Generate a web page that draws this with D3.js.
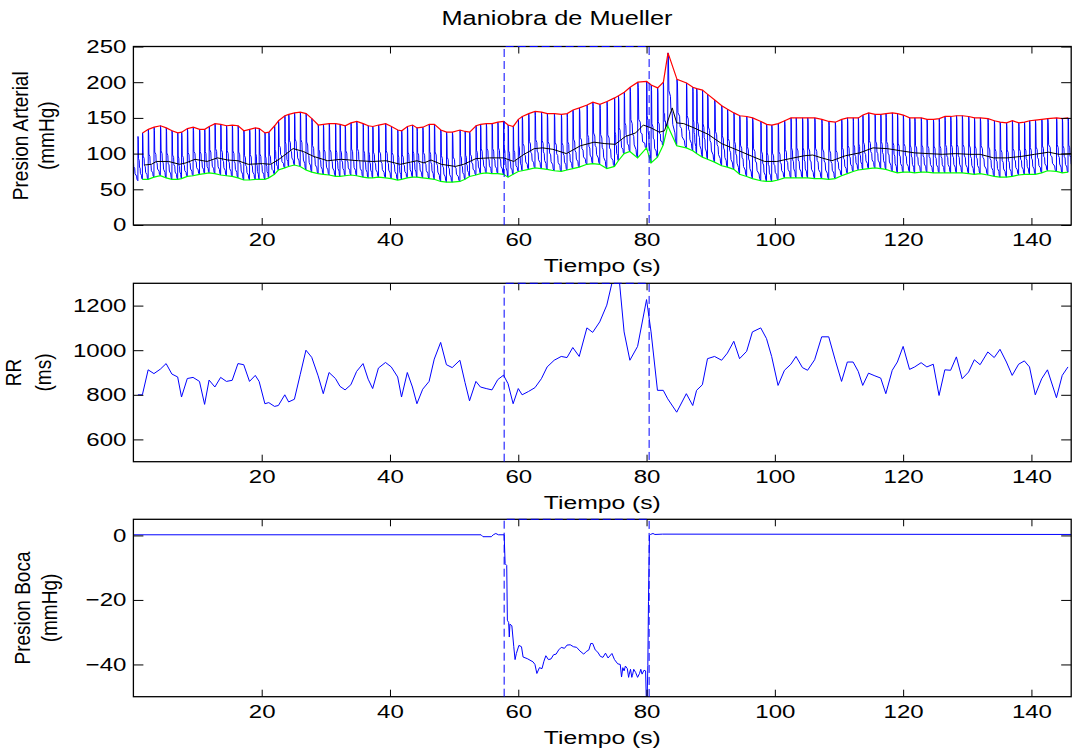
<!DOCTYPE html>
<html>
<head>
<meta charset="utf-8">
<script src="https://cdn.jsdelivr.net/npm/d3@7"></script>
<style>
body{margin:0;background:#fff;}
text{font-family:"Liberation Sans",Arial,sans-serif;fill:#000;}
</style>
</head>
<body>
<svg id="chart" width="1072" height="753"></svg>
<script>
// ---- data ----
var xTicks = [20, 40, 60, 80, 100, 120, 140];
var bpTicks = [0, 50, 100, 150, 200, 250];
var rrTicks = [600, 800, 1000, 1200];
var mouthTicks = [-40, -20, 0];
var maneuver = [57.8, 80.4];

// beat times (s) and RR (ms)
var rrTime = [0.7, 1.4, 2.3, 3.2, 4.2, 5.1, 6.0, 6.9, 7.5, 8.4, 9.3,
  10.3, 11.1, 11.8, 12.7, 13.6, 14.5, 15.4, 16.3, 17.2, 18.1,
  19.0, 19.6, 20.5, 21.1, 22.0, 22.6, 23.6, 24.2, 25.1, 26.0,
  26.9, 27.8, 28.8, 29.6, 30.5, 31.5, 32.2, 33.0, 33.9, 34.8,
  35.8, 36.6, 37.3, 38.2, 39.3, 40.2, 41.2, 41.8, 42.7, 43.5,
  44.2, 45.1, 46.1, 46.9, 47.9, 48.8, 49.7, 50.9, 51.7, 52.4,
  53.4, 54.1, 55.0, 55.9, 56.8, 57.7, 58.4, 59.2, 60.0, 60.6,
  61.6,
  62.6, 63.6, 64.5, 65.6, 66.7, 67.6, 68.5, 69.5, 70.7, 71.6,
  72.7, 73.8, 75.0, 75.6, 76.5, 77.4, 78.6, 80.0, 80.7, 81.7,
  82.6, 83.3, 84.7, 86.2, 87.2, 87.8, 88.7, 89.5, 90.6, 91.7,
  92.6, 93.6, 94.5, 95.6, 96.5, 97.8, 98.7, 99.5, 100.5, 101.5,
  102.5, 103.3, 104.3, 105.1, 106.2, 107.3, 108.4, 109.4, 110.4, 111.3,
  112.2, 113.0, 113.7, 114.6, 115.6, 116.5, 117.3, 118.3, 119.1, 120.0,
  121.0, 121.8, 122.8, 123.7, 124.7, 125.6, 126.5, 127.4, 128.3, 129.2,
  130.2, 131.1, 132.0, 133.2, 134.2, 135.1, 136.1, 137.0, 138.0, 138.9,
  139.7, 140.6, 141.6, 142.5, 143.9, 144.8, 145.7];
var rrValue = [800, 800, 912, 895, 915, 940, 893, 880, 790, 873, 878,
  860, 757, 866, 835, 878, 860, 865, 940, 935, 860,
  887, 860, 760, 765, 748, 752, 800, 768, 780, 890,
  1000, 968, 885, 805, 900, 873, 838, 822, 845, 905,
  940, 870, 828, 920, 945, 925, 880, 790, 900, 835,
  760, 825, 860, 960, 1035, 935, 922, 955, 855, 773,
  860, 835, 828, 822, 868, 888, 850, 760, 828, 800,
  815,
  832, 872, 925, 955, 972, 967, 1012, 972, 1100, 1080,
  1127, 1202, 1350, 1360, 1082, 955, 1017, 1227, 1082, 820,
  820, 782, 722, 805, 752, 820, 845, 962, 972, 955,
  987, 1040, 962, 995, 1082, 1100, 1052, 972, 842, 910,
  937, 972, 922, 910, 957, 1060, 1060, 957, 860, 947,
  947, 905, 842, 897, 885, 875, 805, 910, 947, 1017,
  914, 925, 944, 925, 937, 797, 912, 910, 970, 872,
  902, 957, 935, 992, 967, 1004, 947, 887, 937, 952,
  925, 800, 872, 912, 787, 887, 925];

// arterial pressure per beat (mmHg): one extra beat before the first RR beat
var beatTime = [-0.3].concat(rrTime);
var beatSys = [127, 124, 129, 134, 137, 139, 136, 132, 129, 130, 135, 137,
  134, 134, 138, 142, 141, 139, 140, 139, 132, 134,
  136, 135, 129, 130, 139, 146, 153, 155, 157, 158,
  156, 149, 140, 141, 142, 142, 141, 139, 143, 145,
  142, 139, 138, 140, 142, 138, 133, 132, 138, 140,
  136, 137, 141, 141, 133, 130, 130, 133, 131, 130,
  139, 141, 142, 142, 144, 145, 140, 138, 148, 152,
  156,
  159, 158, 156, 156, 155, 156, 161, 164, 168, 172,
  169, 173, 178, 181, 186, 193, 200, 201, 196, 192,
  200, 241, 204, 199, 193, 191, 189, 183, 175, 167,
  162, 157, 153, 152, 150, 145, 141, 140, 142, 146,
  150, 150, 150, 150, 150, 148, 145, 144, 148, 150,
  150, 150, 154, 157, 155, 155, 156, 157, 156, 154,
  150, 150, 150, 148, 148, 149, 152, 152, 153, 153,
  152, 150, 150, 149, 146, 144, 143, 146, 143, 144,
  146, 147, 148, 149, 150, 149, 150];
var beatDia = [62, 62, 64, 64, 67, 69, 66, 64, 64, 65, 68, 69,
  71, 72, 73, 72, 70, 69, 68, 66, 63, 63,
  64, 64, 64, 66, 71, 77, 80, 82, 84, 82,
  77, 74, 72, 71, 70, 68, 68, 69, 70, 69,
  67, 66, 66, 67, 66, 65, 63, 64, 66, 67,
  67, 66, 65, 64, 61, 60, 60, 61, 64, 68,
  70, 72, 73, 72, 72, 71, 67, 71, 75, 76,
  78,
  80, 79, 78, 76, 75, 77, 79, 81, 85, 86,
  85, 79, 82, 90, 100, 103, 94, 108, 87, 95,
  112, 139, 111, 108, 104, 100, 95, 92, 88, 83,
  81, 78, 71, 68, 65, 62, 61, 61, 63, 66,
  66, 66, 66, 66, 65, 65, 64, 65, 69, 72,
  75, 77, 78, 79, 80, 79, 78, 75, 73, 74,
  74, 73, 74, 74, 73, 73, 73, 73, 73, 73,
  72, 71, 72, 70, 68, 67, 67, 68, 70, 71,
  71, 71, 73, 76, 75, 73, 74];
// shape of one pulse: [fraction of beat, fraction of pulse height]
var beatShape = [[0, 0], [0.03, 1], [0.08, 0.93], [0.13, 0.5], [0.3, 0.45], [0.35, 0.3],
  [0.5, 0.27], [0.56, 0.15], [0.8, 0.1], [0.86, 0.03]];

// mean arterial pressure (black)
var meanTime = [1.7, 2.8, 3.6, 5.5, 7.2, 8.2, 9.6, 11.5, 13.1, 14.7, 16.3, 17.9, 20.1, 21.4, 22.7, 24.9, 26.5, 28.1, 30.3, 32.4,
  35.1, 37.3, 39.4, 41.6, 43.2, 44.2, 45.3, 46.4, 48.0, 50.2, 51.5, 53.4, 55.5, 57.7, 59.3, 60.9, 62.5,
  63.8, 65.4, 67.5, 69.7, 71.8, 73.5, 75.1, 76.7, 78.3, 79.5, 80.7, 82.0, 82.8, 84.0, 84.7, 85.8, 87.4, 89.6, 91.7,
  94.4, 96.5, 98.4, 100.3, 102.4, 104.6, 105.9, 107.3, 108.9, 111.0, 113.2, 115.3, 117.5, 119.6, 121.8, 123.9,
  126.1, 128.2, 130.3, 132.0, 134.1, 136.2, 138.4, 140.5, 142.7, 144.3, 146.2];
var meanValue = [84, 85, 89, 89, 85, 87, 92, 89, 94, 91, 90, 85, 86, 85, 92, 107, 103, 96, 90, 92,
  90, 89, 90, 85, 88, 90, 87, 91, 85, 82, 85, 93, 94, 94, 89, 99, 107,
  108, 106, 100, 111, 116, 114, 113, 124, 129, 140, 136, 130, 132, 164, 143, 142, 136, 127, 114,
  104, 96, 89, 89, 93, 97, 98, 94, 90, 97, 101, 108, 107, 104, 101, 100,
  99, 100, 99, 99, 94, 94, 96, 99, 102, 99, 100];

// mouth pressure (mmHg)
var mouthTime = [0, 54.2, 54.5, 55.8, 56.1, 56.5, 56.9, 57.8, 57.95, 58.2, 58.3, 58.5, 58.6, 58.7, 59.0, 59.3, 59.5, 59.7,
  60.1, 60.5, 60.75, 61.4, 62.3, 62.6, 62.9, 63.3, 63.7, 64.0, 64.3, 64.7, 65.1, 65.5, 65.9, 66.3, 66.7, 67.2, 67.6, 68.1,
  68.6, 69.1, 69.6, 70.2, 70.6, 71.0, 71.3, 71.6, 72.0, 72.4, 72.8, 73.2, 73.6, 74.0, 74.6, 75.0, 75.5, 75.9,
  76.1, 76.3, 76.5, 76.7, 77.0, 77.2, 77.3, 77.5, 77.7, 77.8, 78.0, 78.3, 78.6, 78.9, 79.1, 79.3, 79.6, 79.85,
  79.95, 80.1, 80.2, 80.3, 80.45, 80.6, 81.0, 81.3, 82.5, 146.2];
var mouthValue = [0.2, 0.2, -0.4, -0.4, 0.2, 0.6, 0.2, 0.2, -8.8, -9.3, -26.3, -27, -31.5, -27.5, -28, -34.5, -38.5, -36.6,
  -34.1, -34.5, -37.7, -38.2, -39.2, -40, -42.8, -41, -41.3, -39, -37.3, -38.5, -38.3, -37, -36.8, -35.5, -34.7, -35, -34, -33.9,
  -34.5, -34.7, -35.8, -36.8, -36, -35.5, -33.5, -33.5, -35.5, -36.2, -37.5, -37.8, -36.5, -38, -36.6, -38.5, -39.8, -40,
  -43.9, -41, -42, -40.5, -41.3, -44, -43, -41.5, -44, -43.4, -41.5, -42.5, -44, -42.8, -41.5, -43, -41.8, -42,
  -50, -50, -40.3, -20.5, 0, 0.3, 0.6, 0.3, 0.4, 0.3];

// ---- drawing ----
var STRETCH = 1.3;
var svg = d3.select("#chart");
svg.append("rect").attr("width", 1072).attr("height", 753).attr("fill", "#fff");

var x = d3.scaleLinear().domain([0, 146.2]).range([133.4, 1071.2]);

function makePanel(top, bottom, domain){
  var y = d3.scaleLinear().domain(domain).range([bottom, top]);
  var id = "clip" + Math.round(top);
  svg.append("clipPath").attr("id", id)
    .append("rect")
    .attr("x", x.range()[0]).attr("y", top)
    .attr("width", x.range()[1] - x.range()[0])
    .attr("height", bottom - top);
  var plot = svg.append("g").attr("clip-path", "url(#" + id + ")");
  return {y: y, top: top, bottom: bottom, plot: plot};
}

function finishPanel(p, yTicks, labels, labelX){
  var g = svg.append("g");
  // inward ticks on all four sides
  var axes = [
    [d3.axisBottom(x).tickValues(xTicks).tickSizeInner(-7).tickPadding(8), "translate(0," + p.bottom + ")"],
    [d3.axisTop(x).tickValues(xTicks).tickSizeInner(-7).tickFormat(""), "translate(0," + p.top + ")"],
    [d3.axisLeft(p.y).tickValues(yTicks).tickSizeInner(-10).tickPadding(5.4).tickFormat(d3.format("d")), "translate(" + x.range()[0] + ",0)"],
    [d3.axisRight(p.y).tickValues(yTicks).tickSizeInner(-10).tickFormat(""), "translate(" + x.range()[1] + ",0)"]
  ];
  axes.forEach(function(a){
    var ax = g.append("g").attr("transform", a[1]).call(a[0].tickSizeOuter(0));
    ax.select(".domain").remove();
    ax.selectAll(".tick line").attr("stroke", "#000").attr("stroke-width", 1);
    ax.selectAll(".tick text")
      .attr("font-size", 18.5)
      .attr("font-family", "Liberation Sans, Arial, sans-serif")
      .attr("fill", "#000")
      .attr("transform", "scale(" + STRETCH + ",1)");
  });

  g.append("rect")
    .attr("x", x.range()[0]).attr("y", p.top)
    .attr("width", x.range()[1] - x.range()[0])
    .attr("height", p.bottom - p.top)
    .attr("fill", "none").attr("stroke", "#000").attr("stroke-width", 1.3);

  // maneuver window, dashed
  var yTop = p.y.domain()[1], yBot = p.y.domain()[0];
  g.append("path")
    .attr("d", d3.line()([[x(maneuver[0]), p.y(yBot)], [x(maneuver[0]), p.y(yTop)],
                          [x(maneuver[1]), p.y(yTop)], [x(maneuver[1]), p.y(yBot)]]))
    .attr("fill", "none").attr("stroke", "#0000ff").attr("stroke-width", 1)
    .attr("stroke-dasharray", "8,4");

  g.append("text")
    .attr("transform", "translate(" + ((x.range()[0] + x.range()[1]) / 2) + "," + (p.bottom + 47) + ") scale(" + STRETCH + ",1)")
    .attr("text-anchor", "middle")
    .attr("font-size", 19)
    .text("Tiempo (s)");

  var cy = (p.top + p.bottom) / 2;
  labels.forEach(function(s, i){
    g.append("text")
      .attr("transform", "translate(" + labelX[i] + "," + cy + ") scale(1.15,1) rotate(-90)")
      .attr("text-anchor", "middle")
      .attr("font-size", 19)
      .text(s);
  });
}

// panel 1: arterial pressure
var p1 = makePanel(46.5, 225, [0, 250]);
var wave = [], peaks = [], troughs = [];
beatTime.forEach(function(t0, i){
  var last = i == beatTime.length - 1;
  var t1 = last ? t0 + 0.9 : beatTime[i + 1];
  var dNext = last ? beatDia[i] : beatDia[i + 1];
  beatShape.forEach(function(s){
    var base = beatDia[i] + s[0] * (dNext - beatDia[i]);
    wave.push([t0 + s[0] * (t1 - t0), base + s[1] * (beatSys[i] - base)]);
  });
  if(t0 >= 1.4){
    peaks.push([t0 + beatShape[1][0] * (t1 - t0), beatSys[i]]);
    troughs.push([t0, beatDia[i]]);
  }
});
var line1 = d3.line().x(function(d){ return x(d[0]); }).y(function(d){ return p1.y(d[1]); });
p1.plot.append("path").attr("d", line1(wave))
  .attr("fill", "none").attr("stroke", "#0000ff").attr("stroke-width", 1);
p1.plot.append("path").attr("d", line1(peaks))
  .attr("fill", "none").attr("stroke", "#ff0000").attr("stroke-width", 1.2);
p1.plot.append("path").attr("d", line1(troughs))
  .attr("fill", "none").attr("stroke", "#00ff00").attr("stroke-width", 1.2);
p1.plot.append("path").attr("d", line1(meanTime.map(function(t, i){ return [t, meanValue[i]]; })))
  .attr("fill", "none").attr("stroke", "#000").attr("stroke-width", 1);
finishPanel(p1, bpTicks, ["Presion Arterial", "(mmHg)"], [27.5, 54]);

// panel 2: RR
var p2 = makePanel(283.3, 461.7, [500, 1300]);
p2.plot.append("path")
  .attr("d", d3.line().x(function(d){ return x(d[0]); }).y(function(d){ return p2.y(d[1]); })
    (rrTime.map(function(t, i){ return [t, rrValue[i]]; })))
  .attr("fill", "none").attr("stroke", "#0000ff").attr("stroke-width", 1);
finishPanel(p2, rrTicks, ["RR", "(ms)"], [21, 51]);

// panel 3: mouth pressure
var p3 = makePanel(519.3, 696.7, [-50, 5]);
p3.plot.append("path")
  .attr("d", d3.line().x(function(d){ return x(d[0]); }).y(function(d){ return p3.y(d[1]); })
    (mouthTime.map(function(t, i){ return [t, mouthValue[i]]; })))
  .attr("fill", "none").attr("stroke", "#0000ff").attr("stroke-width", 1);
finishPanel(p3, mouthTicks, ["Presion Boca", "(mmHg)"], [29.5, 57]);

svg.append("text")
  .attr("transform", "translate(557,24.5) scale(" + STRETCH + ",1)")
  .attr("text-anchor", "middle")
  .attr("font-size", 19.5)
  .text("Maniobra de Mueller");
</script>
</body>
</html>
